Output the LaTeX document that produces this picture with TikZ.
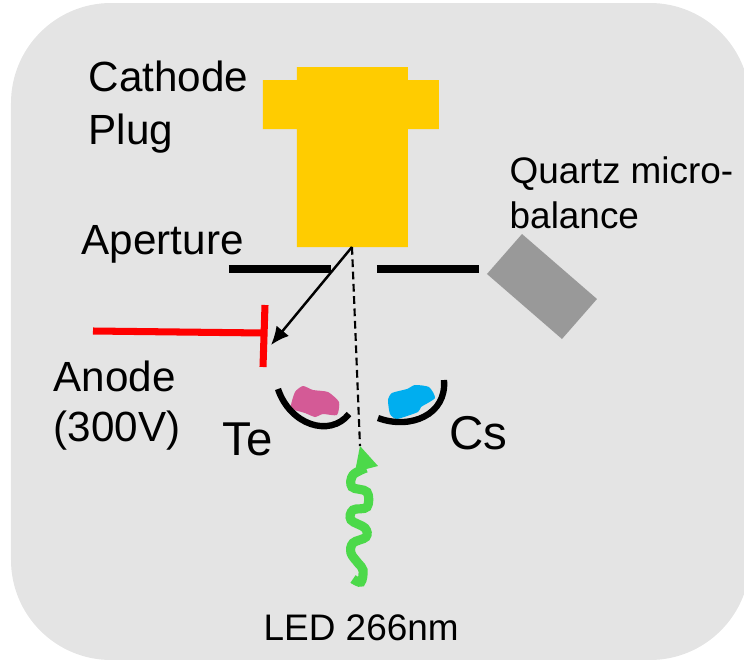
\documentclass[tikz,border=0pt]{standalone}
\usepackage{fontspec}
\setmainfont{Liberation Sans}
\usetikzlibrary{arrows.meta}
\definecolor{panel}{HTML}{E4E4E4}
\definecolor{plug}{HTML}{FFCC00}
\definecolor{balance}{HTML}{999999}
\definecolor{tellur}{HTML}{D45A96}
\definecolor{caesium}{HTML}{00AEEF}
\definecolor{light}{HTML}{4CD94A}
\begin{document}
\begin{tikzpicture}
  [x=0.01cm,y=-0.01cm,every node/.style={inner sep=0pt,align=left,text=black},
   biglabel/.style={font=\fontsize{12}{15.2}\selectfont},
   hugelabel/.style={font=\fontsize{13.5}{15}\selectfont},
   smalllabel/.style={font=\fontsize{10.5}{12.4}\selectfont},
   cup/.style={draw=black,line width=1.8pt}]
  \useasboundingbox (0,0) rectangle (744,660);

  \fill[panel,rounded corners=1cm] (11,3) rectangle (750,660);

  % plug
  \fill[plug] (297,67) -- (408,67) -- (408,80) -- (439,80) -- (439,129) -- (408,129)
    -- (408,247) -- (297,247) -- (297,129) -- (263,129) -- (263,80) -- (297,80) -- cycle;
  \coordinate (a1) at (352,247);

  % aperture and microbalance
  \draw[line width=2.2pt] (229,269) -- (331,269);
  \draw[line width=2.2pt] (377,269) -- (479,269);
  \fill[balance] (522,234) -- (597,299) -- (562,339) -- (487,274) -- cycle;

  % anode
  \coordinate (a2) at (93,331);
  \coordinate (a3) at (264,333);
  \coordinate (a4) at (265,305);
  \coordinate (a5) at (263,367);
  \draw[red,line width=2pt] (a2) -- (a3);
  \draw[red,line width=2pt] (a4) -- (a5);
  \coordinate (a6) at (271,345);
  \draw[line width=0.7pt,-{Latex[length=5.2pt,width=4.6pt]}] (a1) -- (a6);

  % sources
  \fill[tellur] plot[smooth cycle,tension=0.35] coordinates {(291,408) (295,392) (303,386) (313,390) (328,392) (339,402) (337,415) (323,414) (315,417) (305,413)};
  \fill[caesium] plot[smooth cycle,tension=0.35] coordinates {(388,400) (392,393) (407,389) (415,385) (429,387) (435,398) (421,407) (418,412) (397,419) (390,414)};
  \draw[cup] (278,389) .. controls (290,425) and (330,438) .. (349,414);
  \draw[cup] (378,418) .. controls (410,430) and (447,415) .. (444,380);

  % light
  \coordinate (a7) at (360,446);
  \draw[line width=0.6pt,dash pattern=on 2.2pt off 1.3pt] (a1) -- (a7);
  \fill[light] (a7) -- (378,466) -- (355,472) -- cycle;
  \draw[light,line width=2.6pt] plot[smooth,tension=0.6] coordinates {(353,579) (361,582) (363,570) (358,563) (351,553) (353,543) (366,537) (365,528) (351,520) (353,510) (367,507) (367,492) (352,487) (353,475) (366,468)};

  \node[biglabel,anchor=north west] (a8) at (88,60) {Cathode\\Plug};
  \node[smalllabel,anchor=north west] (a9) at (509,156) {Quartz micro-};
  \node[smalllabel,anchor=north west] (a10) at (509,201) {balance};
  \node[biglabel,anchor=north west] (a11) at (81,225) {Aperture};
  \node[biglabel,anchor=north west] (a12) at (53,360) {Anode};
  \node[biglabel,anchor=north west] (a13) at (53,410) {(300V)};
  \node[hugelabel,anchor=north west] (a14) at (222,422) {Te};
  \node[hugelabel,anchor=north west] (a15) at (449,416) {Cs};
  \node[smalllabel,anchor=north west] (a16) at (263,614) {LED 266nm};
\end{tikzpicture}
\end{document}
